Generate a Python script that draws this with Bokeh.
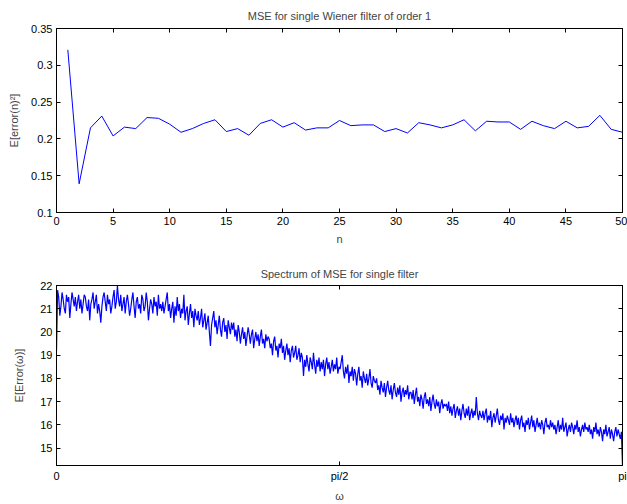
import numpy as np
from bokeh.plotting import figure
from bokeh.models import LinearAxis, FixedTicker, Range1d
from bokeh.layouts import column
from bokeh.embed import file_html
from bokeh.resources import INLINE

# ---- data ----
n_vals = list(range(1, 51))
mse = [0.321, 0.139, 0.215, 0.231, 0.204, 0.216, 0.214, 0.229, 0.228, 0.220,
       0.209, 0.214, 0.221, 0.226, 0.210, 0.214, 0.205, 0.221, 0.226, 0.216,
       0.222, 0.212, 0.215, 0.215, 0.225, 0.218, 0.219, 0.219, 0.210, 0.214,
       0.208, 0.222, 0.219, 0.215, 0.219, 0.226, 0.211, 0.224, 0.223, 0.223,
       0.213, 0.224, 0.218, 0.214, 0.224, 0.215, 0.217, 0.232, 0.213, 0.209]

spectrum = [
    19.2, 21.8, 21.5, 20.7, 21.1, 21.7, 21.4, 21.0, 20.8, 21.6, 21.3, 21.5, 20.6, 21.2, 21.7, 21.4,
    21.1, 21.5, 20.9, 21.3, 21.6, 21.0, 21.4, 20.8, 21.2, 21.6, 21.5, 21.1, 20.9, 21.4, 20.5, 21.2,
    21.4, 21.7, 21.0, 21.3, 21.6, 20.8, 21.2, 20.9, 20.4, 21.1, 21.5, 21.7, 21.3, 20.9, 21.6, 21.2,
    21.4, 20.8, 21.1, 21.5, 21.8, 21.0, 21.3, 22.0, 21.4, 21.1, 21.6, 20.9, 21.2, 21.5, 20.8, 21.3,
    21.6, 21.2, 20.7, 21.0, 21.4, 21.7, 21.1, 20.6, 21.3, 21.5, 21.0, 21.2, 20.8, 21.6, 21.4, 20.9,
    21.1, 21.7, 21.3, 20.5, 21.0, 21.4, 21.2, 20.8, 21.5, 21.1, 21.3, 20.7, 21.6, 21.0, 21.2, 20.9,
    21.3, 20.8, 21.1, 21.4, 21.7, 20.9, 21.2, 20.6, 21.0, 21.3, 20.4, 21.1, 20.7, 21.5, 20.9, 21.2,
    20.6, 21.0, 20.8, 21.6, 20.5, 20.9, 21.1, 20.3, 20.8, 21.2, 20.6, 20.9, 20.2, 21.0, 20.7, 20.5,
    20.9, 20.3, 20.6, 21.0, 20.2, 20.5, 20.8, 20.1, 20.4, 20.7, 20.0, 19.4, 20.3, 20.6, 20.9, 20.2,
    20.5, 19.9, 20.3, 20.7, 20.1, 19.8, 20.4, 20.6, 20.0, 20.3, 19.7, 20.5, 20.2, 19.9, 20.4, 20.1,
    20.4, 19.8, 20.1, 19.6, 20.3, 20.0, 19.5, 19.9, 20.2, 19.7, 20.0, 19.4, 19.8, 20.2, 19.9, 19.5,
    19.9, 20.1, 19.3, 19.7, 20.0, 19.6, 19.9, 19.4, 19.8, 20.1, 19.5, 19.7, 19.3, 19.9, 19.6, 19.8,
    19.7, 19.3, 19.5, 19.0, 19.6, 19.8, 19.2, 19.4, 18.9, 19.5, 19.3, 19.7, 19.1, 19.4, 18.8, 19.2,
    19.5, 19.0, 19.3, 18.7, 19.2, 19.4, 18.9, 19.1, 19.4, 18.8, 19.0, 19.3, 18.7, 19.1, 18.9, 18.1,
    18.8, 18.5, 19.0, 18.6, 18.3, 18.9, 18.7, 18.4, 19.1, 18.6, 18.2, 18.8, 18.5, 18.9, 18.3, 18.7,
    18.4, 18.8, 18.1, 18.6, 18.9, 18.4, 18.7, 18.2, 18.5, 18.8, 18.3, 18.6, 18.4, 18.9, 18.2, 18.5,
    18.4, 18.7, 19.0, 18.3, 18.0, 18.5, 18.2, 18.6, 17.8, 18.3, 18.1, 18.5, 17.9, 18.4, 18.2, 17.7,
    18.2, 18.5, 17.9, 18.1, 17.6, 18.3, 18.0, 17.8, 18.2, 17.7, 18.0, 18.4, 17.8, 17.6, 18.1, 17.9,
    17.8, 18.0, 17.5, 17.7, 17.3, 17.9, 17.6, 17.4, 17.8, 17.2, 17.6, 17.9, 17.5, 17.3, 17.7, 17.1,
    17.5, 17.8, 17.4, 17.2, 17.6, 17.3, 17.7, 17.0, 17.4, 17.6, 17.2, 17.5, 17.3, 17.7, 17.1, 17.4,
    17.4, 17.1, 17.5, 16.9, 17.3, 17.6, 17.0, 17.2, 16.8, 17.3, 17.1, 16.7, 17.2, 17.4, 16.9, 17.1,
    16.8, 17.2, 16.6, 17.0, 17.3, 16.9, 16.7, 17.1, 16.8, 17.0, 16.5, 16.9, 17.1, 16.7, 16.9, 16.8,
    16.9, 16.6, 17.0, 16.5, 16.8, 16.4, 16.7, 16.9, 16.3, 16.6, 16.8, 16.4, 16.7, 16.2, 16.6, 16.9,
    16.5, 16.3, 16.7, 16.4, 16.8, 16.2, 16.5, 16.7, 16.3, 16.6, 16.4, 17.2, 16.5, 16.2, 16.6, 16.4,
    16.3, 16.6, 16.2, 16.5, 16.7, 16.1, 16.4, 16.2, 16.6, 15.9, 16.3, 16.5, 16.1, 16.4, 16.7, 16.2,
    16.0, 16.4, 16.2, 16.5, 15.8, 16.3, 16.1, 16.4, 16.2, 16.0, 16.5, 16.1, 16.3, 15.9, 16.2, 16.4,
    16.0, 16.3, 15.8, 16.2, 16.4, 15.9, 16.1, 15.7, 16.2, 16.0, 16.3, 15.8, 16.1, 16.4, 15.9, 16.2,
    15.7, 16.0, 16.3, 15.9, 16.1, 15.8, 16.2, 16.0, 15.6, 16.1, 16.3, 15.9, 16.0, 15.8, 16.2, 15.9,
    16.1, 15.8, 16.0, 15.6, 15.9, 16.2, 15.7, 16.0, 15.8, 16.3, 15.7, 15.9, 16.1, 15.5, 15.8, 16.0,
    15.7, 16.1, 15.9, 15.6, 16.0, 15.8, 16.2, 15.7, 15.9, 15.5, 15.8, 16.0, 15.7, 16.1, 15.8, 15.9,
    15.7, 16.0, 15.6, 15.8, 15.4, 15.9, 15.7, 16.1, 15.6, 15.8, 15.5, 15.9, 15.7, 15.3, 15.8, 15.6,
    16.0, 15.5, 15.7, 15.9, 15.4, 15.8, 15.6, 15.3, 15.7, 15.9, 15.5, 15.8, 15.6, 15.4, 15.7, 14.25,
]
omega = np.linspace(0, np.pi, len(spectrum))

top_xticks = [0, 5, 10, 15, 20, 25, 30, 35, 40, 45, 50]
top_yticks = [0.1, 0.15, 0.2, 0.25, 0.3, 0.35]
top_ylabels = ["0.1", "0.15", "0.2", "0.25", "0.3", "0.35"]
bot_xticks = [0, np.pi / 2, np.pi]
bot_xlabels = ["0", "pi/2", "pi"]
bot_yticks = [15, 16, 17, 18, 19, 20, 21, 22]

FONT = "Liberation Sans"


def style(p, xt, yt, xover=None, yover=None):
    p.xaxis.ticker = FixedTicker(ticks=xt)
    p.yaxis.ticker = FixedTicker(ticks=yt)
    if xover:
        p.xaxis.major_label_overrides = xover
    if yover:
        p.yaxis.major_label_overrides = yover
    top = LinearAxis(ticker=FixedTicker(ticks=xt))
    right = LinearAxis(ticker=FixedTicker(ticks=yt))
    p.add_layout(top, "above")
    p.add_layout(right, "right")
    for ax in p.axis:
        ax.major_tick_in = 4
        ax.major_tick_out = 0
        ax.minor_tick_line_color = None
        ax.axis_line_color = "black"
        ax.major_tick_line_color = "black"
        ax.major_label_text_font = FONT
        ax.major_label_text_font_size = "11px"
        ax.major_label_text_color = "black"
        ax.axis_label_text_font = FONT
        ax.axis_label_text_font_size = "11px"
        ax.axis_label_text_font_style = "normal"
        ax.major_label_standoff = 4
    for ax in (top, right):
        ax.major_label_text_font_size = "0px"
        ax.major_label_standoff = 0
    p.xgrid.grid_line_color = None
    p.ygrid.grid_line_color = None
    p.outline_line_color = "black"
    p.title.align = "center"
    p.title.text_font = FONT
    p.title.text_font_size = "11px"
    p.title.text_font_style = "normal"
    p.background_fill_color = "white"
    p.border_fill_color = "white"


p1 = figure(width=627, height=252, output_backend="svg", toolbar_location=None,
            x_range=Range1d(0, 50), y_range=Range1d(0.1, 0.35),
            title="MSE for single Wiener filter of order 1",
            min_border_left=56, min_border_right=5, min_border_top=26, min_border_bottom=40)
p1.line(n_vals, mse, line_color="#0000ff", line_width=1)
p1.xaxis.axis_label = "n"
p1.yaxis.axis_label = "E[error(n)²]"
style(p1, top_xticks, top_yticks, None, dict(zip(top_yticks, top_ylabels)))
p1.xaxis[0].axis_label_standoff = 1
p1.yaxis[0].axis_label_standoff = 8
p1.title.standoff = 14

p2 = figure(width=627, height=252, output_backend="svg", toolbar_location=None,
            x_range=Range1d(0, np.pi), y_range=Range1d(14.25, 22),
            title="Spectrum of MSE for single filter",
            min_border_left=56, min_border_right=5, min_border_top=33, min_border_bottom=32)
p2.line(omega, spectrum, line_color="#0000ff", line_width=1.2)
p2.xaxis.axis_label = "ω"
p2.yaxis.axis_label = "E[Error(ω)]"
style(p2, bot_xticks, bot_yticks, dict(zip(bot_xticks, bot_xlabels)), None)
p2.xaxis[0].axis_label_standoff = 3
p2.yaxis[0].axis_label_standoff = 12
p2.title.standoff = 12

layout = column(p1, p2, spacing=0)
open("out.html", "w").write(file_html(layout, INLINE))
